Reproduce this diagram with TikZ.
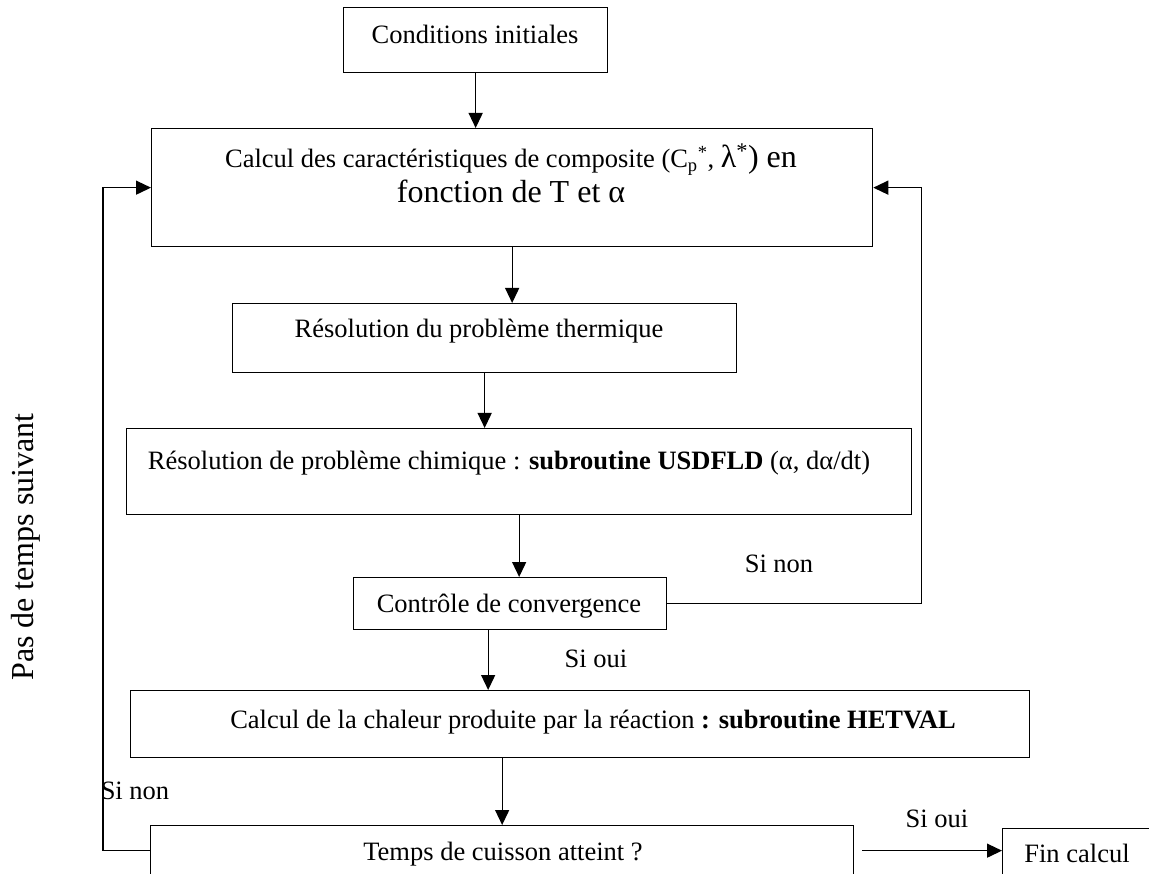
\documentclass[tikz,border=0pt]{standalone}
\usepackage{fontspec}
\setmainfont{Liberation Serif}
\usetikzlibrary{arrows.meta}
\begin{document}
\begin{tikzpicture}[x=1pt,y=-1pt,
  box/.style={draw,line width=1.3pt,inner sep=0pt,anchor=north west},
  txt/.style={inner sep=0pt,anchor=base,font=\fontsize{26.5}{30}\selectfont},
  bigtxt/.style={inner sep=0pt,anchor=base,font=\fontsize{32}{36}\selectfont},
  arr/.style={line width=1.3pt,-{Triangle[length=15pt,width=14pt]}},
  ln/.style={line width=1.3pt}]
\useasboundingbox (0,0) rectangle (1149,874);
\clip (0,0) rectangle (1149,874);
% boxes
\node[box,minimum width=264pt,minimum height=65pt] (cond) at (343,7) {};
\node[box,minimum width=721pt,minimum height=118pt] (calc) at (151,128) {};
\node[box,minimum width=504pt,minimum height=69pt] (therm) at (232,303) {};
\node[box,minimum width=785pt,minimum height=86pt] (chim) at (126,428) {};
\node[box,minimum width=313pt,minimum height=52pt] (ctrl) at (353,577) {};
\node[box,minimum width=899pt,minimum height=67pt] (het) at (130,690) {};
\node[box,minimum width=703pt,minimum height=50pt] (temps) at (150,825) {};
\node[box,minimum width=200pt,minimum height=60pt] (fin) at (1002,828) {};
% texts
\node[txt] (tcond) at (475,44) {Conditions initiales};
\node[txt] (tcalc1) at (511,168) {Calcul des caractéristiques de composite (C\textsubscript{p}\textsuperscript{*}, {\fontsize{32}{36}\selectfont λ\textsuperscript{*}) en}};
\node[bigtxt] (tcalc2) at (511,203) {fonction de T et α};
\node[txt] (ttherm) at (479,338) {Résolution du problème thermique};
\node[txt] (tchim) at (509,470) {Résolution de problème chimique : \textbf{subroutine USDFLD} (α, dα/dt)};
\node[txt] (tctrl) at (509,612) {Contrôle de convergence};
\node[txt] (thet) at (593,728) {Calcul de la chaleur produite par la réaction \textbf{: subroutine HETVAL}};
\node[txt] (ttemps) at (503,860) {Temps de cuisson atteint ?};
\node[txt] (tfin) at (1077,862) {Fin calcul};
% labels
\node[txt] (sinon1) at (779,572) {Si non};
\node[txt] (sioui1) at (596,667) {Si oui};
\node[txt] (sinon2) at (135,799) {Si non};
\node[txt] (sioui2) at (937,827) {Si oui};
\node[bigtxt,rotate=90] (pas) at (34,547) {Pas de temps suivant};
% connectors
\draw[arr] (cond.south) -- (calc.north -| cond.south);
\draw[arr] (calc.south) -- (calc.south |- therm.north);
\draw[arr] (therm.south) -- (therm.south |- chim.north);
\draw[arr] (chim.south) -- (chim.south |- ctrl.north);
\draw[arr] ([xshift=-22pt]ctrl.south) -- ([xshift=-22pt]ctrl.south |- het.north);
\draw[arr] (het.south -| temps.north) -- (temps.north);
\draw[arr] ([xshift=8pt]temps.east) -- (fin.west |- temps.east);
\draw[arr] (temps.west) -- ++(-47,0) |- (calc.west);
\draw[arr] (ctrl.east) -- ++(254,0) |- (calc.east);
\end{tikzpicture}
\end{document}
